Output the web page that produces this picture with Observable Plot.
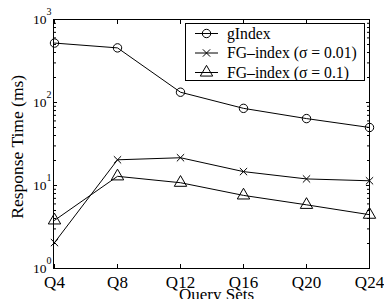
<!DOCTYPE html>
<html><head><meta charset="utf-8">
<script src="https://cdn.jsdelivr.net/npm/d3@7"></script>
<script src="https://cdn.jsdelivr.net/npm/@observablehq/plot@0.6"></script>
<style>
body{margin:0;background:#fff;}
#wrap{position:relative;width:384px;height:299px;font-family:"Liberation Serif","Times New Roman",serif;overflow:hidden;}
#wrap svg text{font-family:"Liberation Serif","Times New Roman",serif;}
#legend{position:absolute;left:185px;top:23px;}
</style></head><body><div id="wrap"></div>
<script>
const querySets = ["Q4","Q8","Q12","Q16","Q20","Q24"];
const gIndexTimes = [520, 455, 133, 85, 64, 50];
const fg001Times = [2.05, 20.4, 21.6, 14.7, 12.0, 11.4];
const fg01Times = [3.8, 12.9, 10.8, 7.6, 5.85, 4.45];
const seriesNames = ["gIndex", "FG\u2013index (\u03c3 = 0.01)", "FG\u2013index (\u03c3 = 0.1)"];
const seriesSymbols = ["circle", "times", "triangle"];
const seriesR = [4.2, 3.4, 4.6];
const yMajorTicks = [1, 10, 100, 1000];
const yLabel = "Response Time (ms)";
const xLabel = "Query Sets";

const seriesValues = [gIndexTimes, fg001Times, fg01Times];
const rows = [];
seriesValues.forEach((vals, s) => vals.forEach((v, i) => rows.push({q: querySets[i], v, s})));
const yMinorTicks = [];
for (const d of [1, 10, 100]) for (let k = 2; k <= 9; k++) yMinorTicks.push(d * k);

const font = "Liberation Serif";
const marks = [
  Plot.frame({stroke: "black", strokeWidth: 1}),
  Plot.axisY(yMajorTicks, {anchor: "left", tickSize: -4, fill: "none", label: null}),
  Plot.axisY(yMinorTicks, {anchor: "left", tickSize: -3, fill: "none", label: null}),
  Plot.axisY(yMajorTicks, {anchor: "right", tickSize: -4, fill: "none", label: null}),
  Plot.axisY(yMinorTicks, {anchor: "right", tickSize: -3, fill: "none", label: null}),
  Plot.axisY(yMajorTicks, {anchor: "left", tickSize: 0, tickPadding: 2, fontSize: 13.5,
    tickFormat: d => String(Math.round(Math.log10(d))), label: null}),
  Plot.axisX(querySets, {anchor: "bottom", tickSize: -4, fill: "none", label: null}),
  Plot.axisX(querySets, {anchor: "top", tickSize: -4, fill: "none", label: null}),
  Plot.axisX(querySets, {anchor: "bottom", tickSize: 0, tickPadding: 7, fontSize: 17, label: null}),
  Plot.text([yLabel], {frameAnchor: "left", text: d => d, rotate: -90, textAnchor: "middle", lineAnchor: "middle",
    dx: -36.5, dy: 2.8, fontSize: 17.5}),
  Plot.text([xLabel], {frameAnchor: "bottom", text: d => d, textAnchor: "middle", lineAnchor: "middle",
    dx: 5, dy: 26.5, fontSize: 17}),
  Plot.line(rows, {x: "q", y: "v", z: "s", stroke: "black", strokeWidth: 1})
];
seriesSymbols.forEach((sym, s) => {
  marks.push(Plot.dot(rows.filter(d => d.s === s), {x: "q", y: "v", symbol: sym, r: seriesR[s], stroke: "black", fill: "none", strokeWidth: 1}));
});

const plot = Plot.plot({
  width: 384, height: 299,
  marginLeft: 53, marginRight: 15, marginTop: 19, marginBottom: 31,
  style: {fontFamily: font, color: "black", background: "white", overflow: "visible"},
  x: {type: "point", domain: querySets, padding: 0, label: null},
  y: {type: "log", domain: [1, 1000], label: null},
  marks
});

d3.select(plot).selectAll('g[aria-label="y-axis tick label"] text').each(function() {
  const e = this.textContent;
  this.textContent = "";
  const t = d3.select(this);
  t.append("tspan").text("10");
  t.append("tspan").attr("font-size", "10px").attr("dy", "-9").text(e);
});

const wrap = document.getElementById("wrap");
wrap.appendChild(plot);

// legend
const lw = 180, lh = 58;
const leg = d3.select(wrap).append("svg").attr("id", "legend").attr("width", lw).attr("height", lh);
leg.append("rect").attr("x", 0.5).attr("y", 0.5).attr("width", lw - 1).attr("height", lh - 1)
  .attr("fill", "white").attr("stroke", "black");
const rowY = [10.5, 30, 49.5];
seriesNames.forEach((name, s) => {
  const g = leg.append("g").attr("transform", `translate(0,${rowY[s]})`);
  g.append("line").attr("x1", 10).attr("x2", 33).attr("stroke", "black");
  const symType = {circle: d3.symbolCircle, times: d3.symbolTimes, triangle: d3.symbolTriangle}[seriesSymbols[s]];
  g.append("path").attr("transform", "translate(21.5,0)")
    .attr("d", d3.symbol(symType, Math.PI * seriesR[s] * seriesR[s])())
    .attr("fill", "none").attr("stroke", "black");
  g.append("text").attr("x", 42).attr("dy", "0.33em").attr("font-family", font).attr("font-size", 15.7).text(name);
});
</script></body></html>
